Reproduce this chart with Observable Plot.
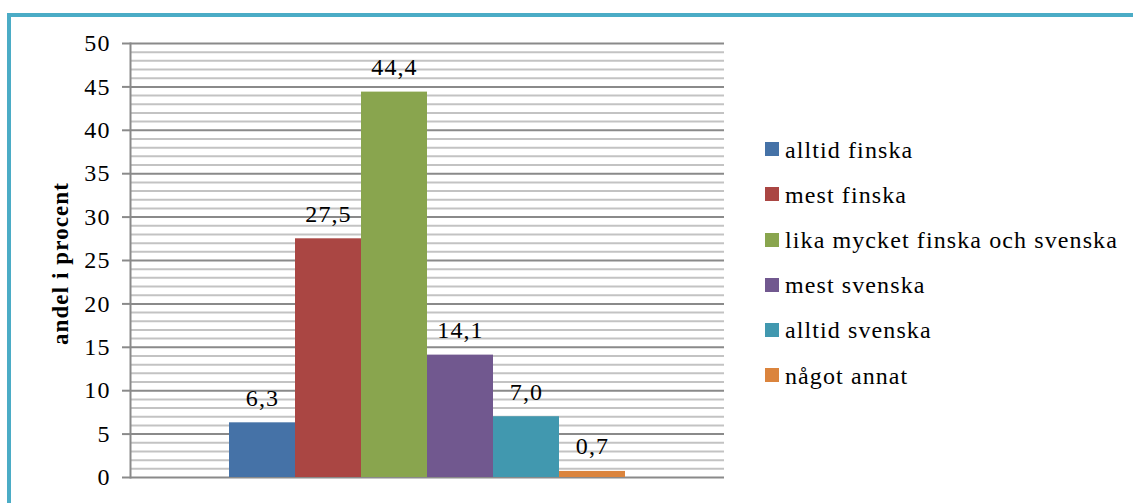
<!DOCTYPE html>
<html>
<head>
<meta charset="utf-8">
<script src="https://cdn.jsdelivr.net/npm/d3@7"></script>
<script src="https://cdn.jsdelivr.net/npm/@observablehq/plot@0.6"></script>
<style>
  html, body { margin: 0; padding: 0; background: #fff; overflow: hidden; width: 1133px; height: 503px; }
  #chart { position: absolute; left: 0; top: 0; }
  #frame { position: absolute; left: 7px; top: 13px; width: 2000px; height: 1000px;
           border-top: 4px solid #4bacc6; border-left: 4px solid #4bacc6; pointer-events: none; z-index: 2; }
  #chart svg text { letter-spacing: 1.1px; }
  #chart g[aria-label="ylabel"] text { letter-spacing: 1.8px; }
  #legend { position: absolute; left: 765px; top: 126.6px; font-family: "Liberation Serif", "Times New Roman", serif;
            font-size: 24px; letter-spacing: 1.1px; color: #000; z-index: 1; }
  #legend .row { height: 45.2px; display: flex; align-items: center; white-space: nowrap; }
  #legend .sw { width: 14px; height: 14px; margin-right: 6px; flex: none; }
  #legend .lab { position: relative; top: 1px; }
</style>
</head>
<body>
<div id="chart"></div>
<div id="legend"></div>
<div id="frame"></div>
<script>
const categories = ["alltid finska", "mest finska", "lika mycket finska och svenska", "mest svenska", "alltid svenska", "något annat"];
const values = [6.3, 27.5, 44.4, 14.1, 7.0, 0.7];
const colors = ["#4572a7", "#aa4643", "#89a54e", "#71588f", "#4198af", "#db843d"];
const yMajorTicks = [0, 5, 10, 15, 20, 25, 30, 35, 40, 45, 50];
const yMinorTicks = d3.range(0, 51, 1).filter(v => v % 5 !== 0);
const yLabel = "andel i procent";

const data = categories.map((c, i) => ({cat: c, value: values[i]}));
const fmt = v => v.toFixed(1).replace(".", ",");

const chart = Plot.plot({
  width: 1133,
  height: 503,
  marginLeft: 130,
  marginRight: 409,
  marginTop: 43,
  marginBottom: 26,
  style: {fontFamily: "'Liberation Serif', 'Times New Roman', serif", fontSize: "24px", background: "transparent", color: "#000"},
  x: {domain: categories, paddingInner: 0, paddingOuter: 1.5, axis: null},
  y: {domain: [0, 50], axis: null},
  color: {domain: categories, range: colors},
  marks: [
    Plot.ruleY(yMinorTicks, {stroke: "#c3c3c3", strokeWidth: 2}),
    Plot.ruleY(yMajorTicks, {stroke: "#8a8a8a", strokeWidth: 2}),
    Plot.barY(data, {x: "cat", y: "value", fill: "cat"}),
    Plot.frame({anchor: "left", stroke: "#8a8a8a", strokeWidth: 2}),
    Plot.axisY({ticks: yMajorTicks, tickSize: 8, tickPadding: 12, stroke: "#8a8a8a", strokeWidth: 2, fill: "#000", fontSize: 24, label: null}),
    Plot.text(data, {x: "cat", y: "value", text: d => fmt(d.value), lineAnchor: "bottom", dy: -17, fontSize: 24, fill: "#000"}),
    Plot.text([yLabel], {frameAnchor: "left", textAnchor: "middle", rotate: -90, dx: -70, dy: 3, fontWeight: "bold", fontSize: 23, fill: "#000", ariaLabel: "ylabel"})
  ]
});
document.getElementById("chart").appendChild(chart);

const legend = document.getElementById("legend");
categories.forEach((c, i) => {
  const row = document.createElement("div");
  row.className = "row";
  const sw = document.createElement("span");
  sw.className = "sw";
  sw.style.background = colors[i];
  const lab = document.createElement("span");
  lab.className = "lab";
  lab.textContent = c;
  row.appendChild(sw);
  row.appendChild(lab);
  legend.appendChild(row);
});
</script>
</body>
</html>
